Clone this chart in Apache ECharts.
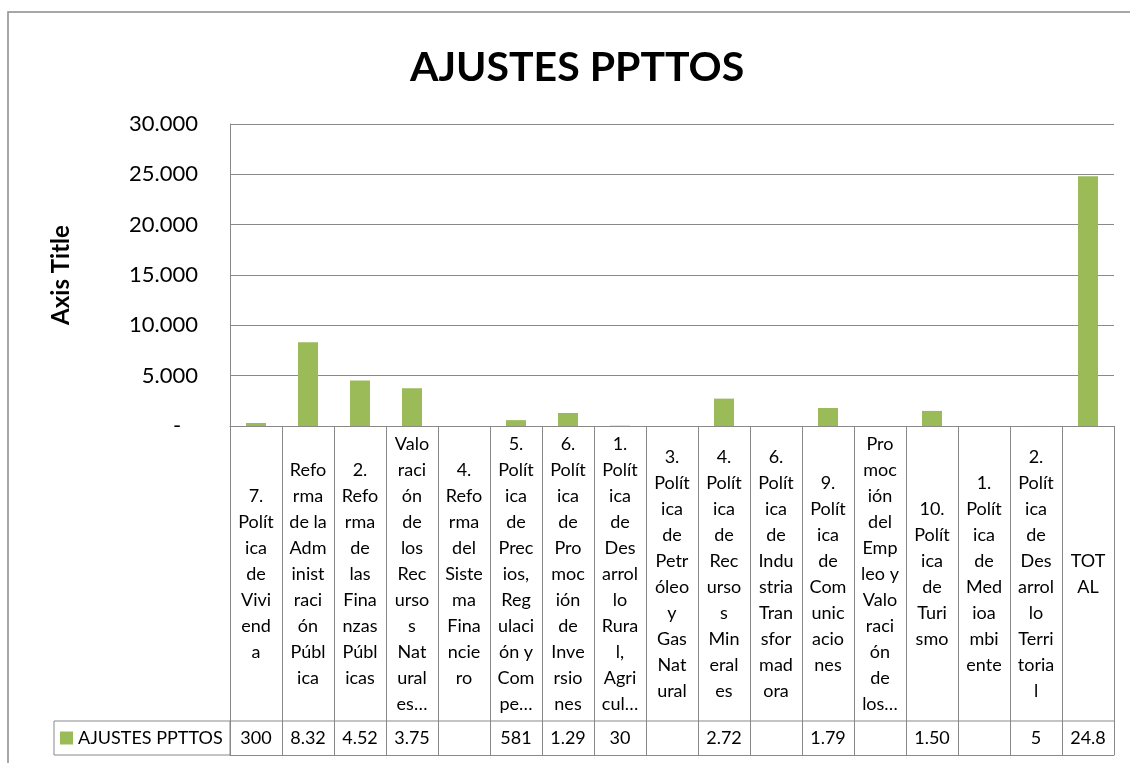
<!DOCTYPE html>
<html>
<head>
<meta charset="utf-8">
<script src="https://cdn.jsdelivr.net/npm/echarts@6/dist/echarts.min.js"></script>
<style>
html,body{margin:0;padding:0;background:#fff;}
#chart{width:1130px;height:763px;}
</style>
</head>
<body>
<div id="chart"></div>
<script>
const chartTitle = 'AJUSTES PPTTOS';
const seriesName = 'AJUSTES PPTTOS';
const yAxisTitle = 'Axis Title';
const categories = [
  '7.\nPolít\nica\nde\nVivi\nend\na',
  'Refo\nrma\nde la\nAdm\ninist\nraci\nón\nPúbl\nica',
  '2.\nRefo\nrma\nde\nlas\nFina\nnzas\nPúbl\nicas',
  'Valo\nraci\nón\nde\nlos\nRec\nurso\ns\nNat\nural\nes…',
  '4.\nRefo\nrma\ndel\nSiste\nma\nFina\nncie\nro',
  '5.\nPolít\nica\nde\nPrec\nios,\nReg\nulaci\nón y\nCom\npe…',
  '6.\nPolít\nica\nde\nPro\nmoc\nión\nde\nInve\nrsio\nnes',
  '1.\nPolít\nica\nde\nDes\narrol\nlo\nRura\nl,\nAgri\ncul…',
  '3.\nPolít\nica\nde\nPetr\nóleo\ny\nGas\nNat\nural',
  '4.\nPolít\nica\nde\nRec\nurso\ns\nMin\neral\nes',
  '6.\nPolít\nica\nde\nIndu\nstria\nTran\nsfor\nmad\nora',
  '9.\nPolít\nica\nde\nCom\nunic\nacio\nnes',
  'Pro\nmoc\nión\ndel\nEmp\nleo y\nValo\nraci\nón\nde\nlos…',
  '10.\nPolít\nica\nde\nTuri\nsmo',
  '1.\nPolít\nica\nde\nMed\nioa\nmbi\nente',
  '2.\nPolít\nica\nde\nDes\narrol\nlo\nTerri\ntoria\nl',
  'TOT\nAL'
];
const values = [300, 8320, 4520, 3750, null, 581, 1290, 30, null, 2720, null, 1790, null, 1500, null, 5, 24806];
const yMin = 0, yMax = 30000, yStep = 5000;

const FONT = 'Lato, "Noto Sans", sans-serif';
const LINE = '#898989';

function thousands(v) {
  return String(v).replace(/\B(?=(\d{3})+(?!\d))/g, '.');
}
// Excel data table shows the number cut to the column width (4 characters)
function tableText(v) {
  if (v === null || v === undefined) return '';
  return thousands(v).slice(0, 4);
}

const chart = echarts.init(document.getElementById('chart'));
chart.setOption({
  animation: false,
  backgroundColor: '#ffffff',
  title: {
    text: chartTitle,
    left: 405, top: 42,
    textStyle: {fontFamily: FONT, fontSize: 41, fontWeight: 'bold', color: '#000'}
  },
  legend: {
    data: [seriesName],
    left: 60, top: 729,
    icon: 'rect', itemWidth: 13, itemHeight: 13, padding: 0,
    textStyle: {fontFamily: FONT, fontSize: 18, color: '#000'}
  },
  grid: [
    {left: 230, width: 884, top: 124, height: 302},
    {left: 230, width: 884, top: 426, height: 329}
  ],
  xAxis: [
    {
      type: 'category', gridIndex: 0, data: categories,
      axisLine: {show: true, lineStyle: {color: LINE, width: 1}},
      axisTick: {show: false},
      splitLine: {show: false},
      axisLabel: {
        interval: 0, margin: 148, verticalAlign: 'middle', align: 'center',
        fontFamily: FONT, fontSize: 18, lineHeight: 26, color: '#000'
      }
    },
    {
      type: 'category', gridIndex: 1, data: categories,
      axisLine: {show: true, lineStyle: {color: LINE, width: 1}},
      axisTick: {show: false},
      splitLine: {show: true, interval: 0, lineStyle: {color: LINE, width: 1}},
      axisLabel: {
        interval: 0, inside: true, margin: 17, verticalAlign: 'middle',
        fontFamily: FONT, fontSize: 18, color: '#000',
        formatter: function (val, idx) { return tableText(values[idx]); }
      }
    }
  ],
  yAxis: [
    {
      type: 'value', gridIndex: 0, min: yMin, max: yMax, interval: yStep,
      name: yAxisTitle, nameLocation: 'middle', nameRotate: 90, nameGap: 157,
      nameTextStyle: {fontFamily: FONT, fontSize: 24, fontWeight: 'bold', color: '#000'},
      axisLine: {show: true, lineStyle: {color: LINE, width: 1}},
      axisTick: {show: false},
      splitLine: {show: true, lineStyle: {color: LINE, width: 1}},
      axisLabel: {
        margin: 32, fontFamily: FONT, fontSize: 22, color: '#000',
        formatter: function (v) { return v === 0 ? '-   ' : thousands(v); }
      }
    },
    {type: 'value', gridIndex: 1, show: false}
  ],
  series: [{
    name: seriesName, type: 'bar', xAxisIndex: 0, yAxisIndex: 0,
    data: values, barWidth: 20,
    itemStyle: {color: '#9BBB59'}
  }],
  graphic: [
    {type: 'rect', shape: {x: 8, y: 12, width: 1200, height: 800}, style: {fill: null, stroke: '#8a8a8a', lineWidth: 1.5}, silent: true},
    {type: 'rect', shape: {x: 54, y: 721, width: 176, height: 34}, style: {fill: null, stroke: LINE, lineWidth: 1}, silent: true},
    {type: 'line', shape: {x1: 230, y1: 721, x2: 1114, y2: 721}, style: {stroke: LINE, lineWidth: 1}, silent: true}
  ]
});
</script>
</body>
</html>
